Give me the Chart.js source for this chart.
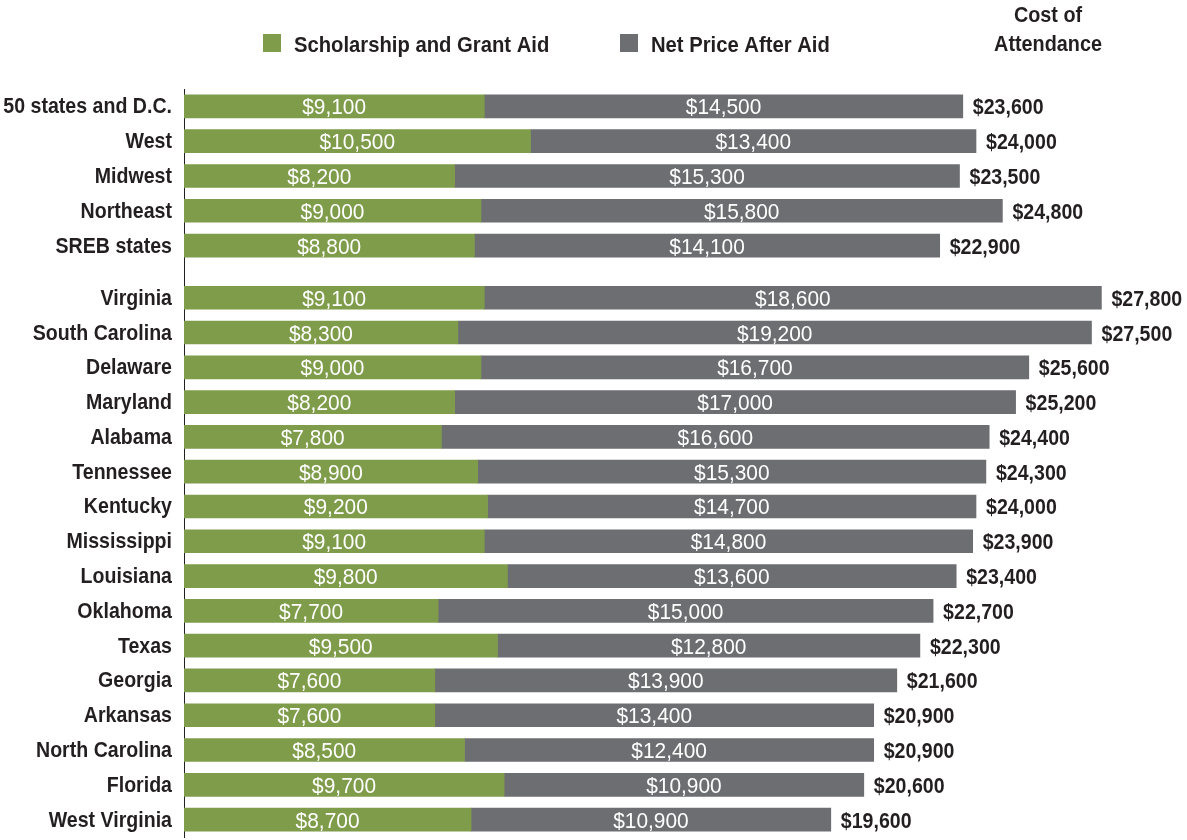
<!DOCTYPE html>
<html>
<head>
<meta charset="utf-8">
<script src="https://cdn.jsdelivr.net/npm/chart.js@4.4.0/dist/chart.umd.min.js"></script>
<style>
  html, body { margin: 0; padding: 0; background: #fff; }
  #wrap { width: 1187px; height: 840px; position: relative; }
</style>
</head>
<body>
<div id="wrap"><canvas id="chart"></canvas></div>
<script>
var categories = ["50 states and D.C.", "West", "Midwest", "Northeast", "SREB states",
    "Virginia", "South Carolina", "Delaware", "Maryland", "Alabama", "Tennessee", "Kentucky",
    "Mississippi", "Louisiana", "Oklahoma", "Texas", "Georgia", "Arkansas", "North Carolina",
    "Florida", "West Virginia"];
var grantAid = [9100, 10500, 8200, 9000, 8800, 9100, 8300, 9000, 8200, 7800, 8900, 9200,
    9100, 9800, 7700, 9500, 7600, 7600, 8500, 9700, 8700];
var netPrice = [14500, 13400, 15300, 15800, 14100, 18600, 19200, 16700, 17000, 16600, 15300,
    14700, 14800, 13600, 15000, 12800, 13900, 13400, 12400, 10900, 10900];
var costOfAttendance = [23600, 24000, 23500, 24800, 22900, 27800, 27500, 25600, 25200, 24400,
    24300, 24000, 23900, 23400, 22700, 22300, 21600, 20900, 20900, 20600, 19600];
var firstState = 5; // individual states start here, after a half-row gap

var FONT = '"Liberation Sans", Arial, sans-serif';
var GREEN = "#7f9c4b";
var GRAY = "#6d6e72";
var DARK = "#231f20";

function money(v) {
    return "$" + v.toLocaleString("en-US");
}

// row slot on the y scale (index, plus half a row after the regions)
function row(i) {
    return i < firstState ? i : i + 0.5;
}

// no condensed face installed, so text is narrowed by hand; y is the baseline
function narrowText(ctx, text, x, y, align, squeeze) {
    ctx.save();
    ctx.translate(x, y);
    ctx.scale(squeeze, 1);
    ctx.textAlign = align;
    ctx.textBaseline = "alphabetic";
    ctx.fillText(text, 0, 0);
    ctx.restore();
}

// grant segment: 0 -> grant, net segment: grant -> total cost
var grantBars = grantAid.map(function (g, i) { return { x: [0, g], y: row(i) }; });
var netBars = grantAid.map(function (g, i) {
    return { x: [g, costOfAttendance[i]], y: row(i) };
});

var labelPlugin = {
    id: "barLabels",
    afterDatasetsDraw: function (chart) {
        var ctx = chart.ctx;
        ctx.save();
        // values inside the bars
        ctx.font = "22px " + FONT;
        ctx.fillStyle = "#ffffff";
        [grantAid, netPrice].forEach(function (vals, di) {
            var meta = chart.getDatasetMeta(di);
            meta.data.forEach(function (bar, i) {
                narrowText(ctx, money(vals[i]), (bar.base + bar.x) / 2, bar.y + 8, "center", 0.95);
            });
        });
        // totals at the end of the bars
        ctx.font = "bold 22px " + FONT;
        ctx.fillStyle = DARK;
        var meta = chart.getDatasetMeta(1);
        meta.data.forEach(function (bar, i) {
            narrowText(ctx, money(costOfAttendance[i]), bar.x + 10, bar.y + 8, "left", 0.89);
        });
        // category names
        var yScale = chart.scales.y;
        categories.forEach(function (c, i) {
            narrowText(ctx, c, yScale.right - 12, yScale.getPixelForValue(row(i)) + 7, "right", 0.89);
        });
        ctx.restore();
    }
};

var legendPlugin = {
    id: "topLegend",
    afterDraw: function (chart) {
        var ctx = chart.ctx;
        ctx.save();
        ctx.font = "bold 22px " + FONT;
        var items = [
            { x: 263, color: GREEN, text: chart.data.datasets[0].label },
            { x: 620, color: GRAY, text: chart.data.datasets[1].label }
        ];
        items.forEach(function (it) {
            ctx.fillStyle = it.color;
            ctx.fillRect(it.x, 34, 18, 18);
            ctx.fillStyle = DARK;
            narrowText(ctx, it.text, it.x + 31, 52, "left", 0.92);
        });
        narrowText(ctx, "Cost of", 1048, 22, "center", 0.9);
        narrowText(ctx, "Attendance", 1048, 51, "center", 0.9);
        ctx.restore();
    }
};

new Chart(document.getElementById("chart"), {
    type: "bar",
    data: {
        datasets: [{
            label: "Scholarship and Grant Aid",
            data: grantBars,
            backgroundColor: GREEN,
            grouped: false,
            barThickness: 23
        }, {
            label: "Net Price After Aid",
            data: netBars,
            backgroundColor: GRAY,
            grouped: false,
            barThickness: 23
        }]
    },
    options: {
        indexAxis: "y",
        responsive: true,
        maintainAspectRatio: false,
        animation: false,
        layout: { padding: { top: 89, right: 13, bottom: 3, left: 0 } },
        scales: {
            x: {
                display: false,
                min: 0,
                max: 30000
            },
            y: {
                type: "linear",
                reverse: true,
                offset: false,
                bounds: "data",
                min: -0.5,
                max: row(categories.length - 1) + 0.5,
                afterFit: function (scale) { scale.width = 184; },
                grid: { display: false, drawTicks: false },
                border: { display: true, color: DARK, width: 1 },
                ticks: { display: false }
            }
        },
        plugins: {
            legend: { display: false },
            tooltip: { enabled: false }
        }
    },
    plugins: [labelPlugin, legendPlugin]
});
</script>
</body>
</html>
